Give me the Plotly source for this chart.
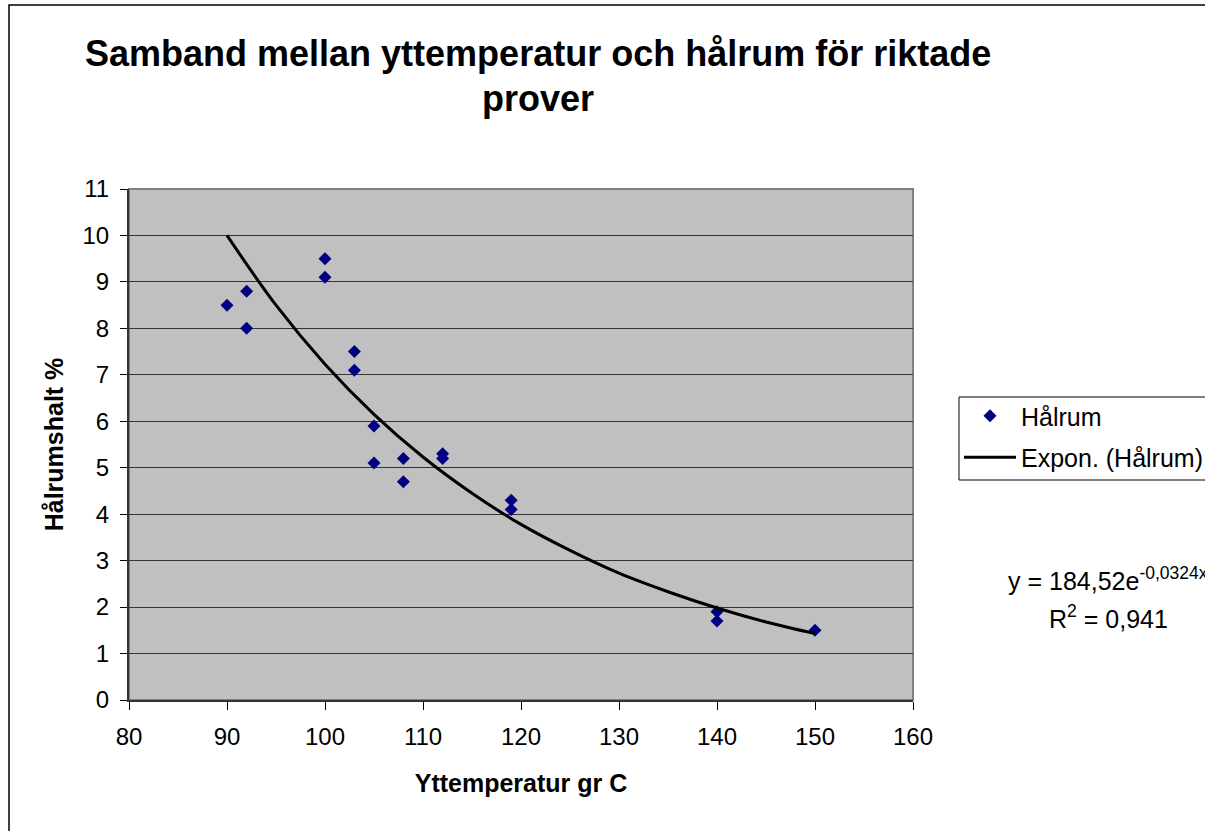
import plotly.graph_objects as go

# Data
temp = [90, 92, 92, 100, 100, 103, 103, 105, 105, 108, 108, 112, 112, 119, 119, 140, 140, 150]
halrum = [8.5, 8.8, 8.0, 9.5, 9.1, 7.5, 7.1, 5.9, 5.1, 5.2, 4.7, 5.3, 5.2, 4.3, 4.1, 1.9, 1.7, 1.5]

# Exponential trendline as drawn
trend_x = [90, 95, 100, 105, 110, 115, 120, 125, 130, 135, 140, 145, 150]
trend_y = [10.0, 8.5, 7.23, 6.15, 5.23, 4.45, 3.78, 3.22, 2.73, 2.33, 1.98, 1.68, 1.43]

x_ticks = [80, 90, 100, 110, 120, 130, 140, 150, 160]
y_ticks = list(range(0, 12))

FONT = "Liberation Sans, Arial, sans-serif"

W, H = 1205, 831
L, R, T, B = 129, 913, 189, 700
pw, ph = R - L, B - T

def px(x):
    return (x - L) / pw

def py(y):
    return (B - y) / ph

fig = go.Figure()
fig.add_trace(go.Scatter(
    x=temp, y=halrum, mode="markers", name="Hålrum",
    marker=dict(symbol="diamond", size=10, color="#000080", line=dict(width=0)),
    legendgroup="a",
))
fig.add_trace(go.Scatter(
    x=trend_x, y=trend_y, mode="lines", name="Expon. (Hålrum)",
    line=dict(color="black", width=3, shape="spline"),
    legendgroup="b",
))

fig.update_layout(
    width=W, height=H,
    margin=dict(l=L, r=W - R, t=T, b=H - B, autoexpand=False),
    paper_bgcolor="white",
    plot_bgcolor="#C0C0C0",
    font=dict(family=FONT, size=24, color="black"),
    showlegend=True,
    legend=dict(
        x=px(959), y=py(393), xanchor="left", yanchor="top",
        bgcolor="rgba(0,0,0,0)", borderwidth=0,
        font=dict(family=FONT, size=25, color="black"),
        tracegroupgap=6, itemwidth=52,
    ),
    xaxis=dict(
        range=[80, 160], tickvals=x_ticks, ticks="outside", ticklen=8,
        tickcolor="black", showgrid=False, zeroline=False,
        showline=True, linecolor="#333333", linewidth=2,
        tickfont=dict(size=24), ticklabelstandoff=6,
        title=dict(text="<b>Yttemperatur gr C</b>", font=dict(size=25), standoff=26),
    ),
    yaxis=dict(
        range=[0, 11], tickvals=y_ticks, ticks="outside", ticklen=7,
        tickcolor="black", showgrid=True, gridcolor="#333333", gridwidth=1,
        zeroline=False, showline=True, linecolor="#333333", linewidth=2,
        tickfont=dict(size=24), ticklabelstandoff=6,
        title=dict(text="<b>Hålrumshalt %</b>", font=dict(size=25), standoff=12),
    ),
    shapes=[
        # outer chart frame (extends past the right and bottom edges)
        dict(type="rect", xref="paper", yref="paper",
             x0=px(9), y0=py(1000), x1=px(1400), y1=py(5),
             line=dict(color="black", width=1.5), layer="below"),
        # plot-area border (top/right gray)
        dict(type="rect", xref="paper", yref="paper", x0=0, y0=0, x1=1, y1=1,
             line=dict(color="#808080", width=2), layer="below"),
        # legend box (runs past the right edge, as in the reference)
        dict(type="rect", xref="paper", yref="paper",
             x0=px(959), y0=py(480), x1=px(1300), y1=py(397),
             line=dict(color="black", width=1), fillcolor="white", layer="above"),
    ],
    annotations=[
        dict(text="<b>Samband mellan yttemperatur och hålrum för riktade</b>",
             xref="paper", yref="paper", x=px(538), y=py(54),
             xanchor="center", yanchor="middle", showarrow=False,
             font=dict(size=36, family=FONT)),
        dict(text="<b>prover</b>",
             xref="paper", yref="paper", x=px(538), y=py(99),
             xanchor="center", yanchor="middle", showarrow=False,
             font=dict(size=36, family=FONT)),
        dict(text="y = 184,52e<sup>-0,0324x</sup>",
             xref="paper", yref="paper", x=px(1108), y=py(579),
             xanchor="center", yanchor="middle", showarrow=False,
             font=dict(size=25, family=FONT)),
        dict(text="R<sup>2</sup> = 0,941",
             xref="paper", yref="paper", x=px(1108), y=py(617),
             xanchor="center", yanchor="middle", showarrow=False,
             font=dict(size=25, family=FONT)),
    ],
)

fig.write_html(
    "out.html",
    config={"displayModeBar": False},
    post_script="document.body.style.margin='0';document.body.style.overflow='hidden';",
)
